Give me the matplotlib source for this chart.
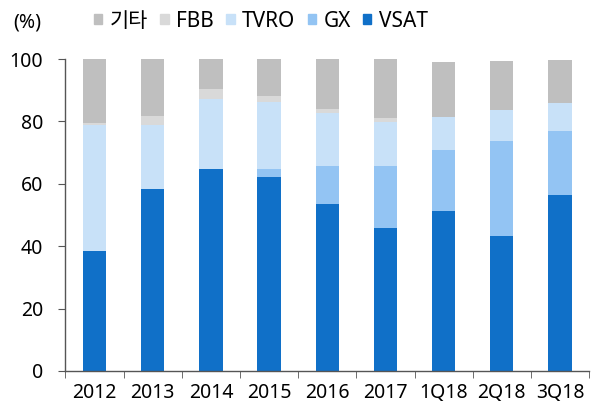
import numpy as np
import matplotlib
matplotlib.use("Agg")
import matplotlib.pyplot as plt
from matplotlib.patches import Patch

plt.rcParams['font.family'] = ['Noto Sans', 'Noto Sans CJK KR', 'DejaVu Sans']

periods = ['2012', '2013', '2014', '2015', '2016', '2017', '1Q18', '2Q18', '3Q18']
vsat = [38.3, 58.4, 64.6, 62.3, 53.6, 45.8, 51.2, 43.2, 56.5]
gx = [0.0, 0.0, 0.0, 2.4, 12.1, 19.9, 19.6, 30.5, 20.5]
tvro = [40.5, 20.3, 22.5, 21.4, 16.9, 14.1, 10.6, 10.0, 9.0]
fbb = [0.6, 3.0, 3.3, 2.0, 1.3, 1.4, 0.0, 0.0, 0.0]
etc = [20.6, 18.3, 9.6, 11.9, 16.1, 18.8, 17.7, 15.7, 13.7]

series = [
    ('VSAT', vsat, '#1070C8'),
    ('GX', gx, '#93C4F3'),
    ('TVRO', tvro, '#C8E1F8'),
    ('FBB', fbb, '#D9D9D9'),
    ('기타', etc, '#BFBFBF'),
]

fig = plt.figure(figsize=(5.95, 4.07), dpi=100)
ax = fig.add_axes([0.110, 0.0885, 0.880, 0.7665])

x = np.arange(len(periods))
bottom = np.zeros(len(periods))
for name, vals, color in series:
    vals = np.array(vals)
    ax.bar(x, vals, 0.4, bottom=bottom, color=color, edgecolor='none', zorder=2)
    bottom += vals

ax.set_xlim(-0.5, len(periods) - 0.5)
ax.set_ylim(0, 100)
ax.set_yticks([0, 20, 40, 60, 80, 100])
ax.set_xticks(x)
ax.set_xticklabels(periods)
ax.set_xticks(np.arange(-0.5, len(periods)), minor=True)
ax.tick_params(axis='x', which='major', length=0, labelsize=14, pad=9)
ax.tick_params(axis='x', which='minor', length=5, color='#555555')
ax.tick_params(axis='y', length=5, color='#555555', labelsize=14, pad=11)
for s in ['top', 'right']:
    ax.spines[s].set_visible(False)
for s in ['left', 'bottom']:
    ax.spines[s].set_color('#555555')
    ax.spines[s].set_linewidth(1.0)

fig.text(0.023, 0.945, '(%)', fontsize=14, va='center', ha='left')

handles = [Patch(color=c, label=n) for n, _, c in series[::-1]]
fig.legend(handles=handles, loc='center left', bbox_to_anchor=(0.158, 0.948),
           ncol=5, frameon=False, fontsize=15, handlelength=0.4, handleheight=0.4,
           handletextpad=0.35, columnspacing=0.6, borderaxespad=0, borderpad=0)

fig.savefig('out.png', dpi=100)
